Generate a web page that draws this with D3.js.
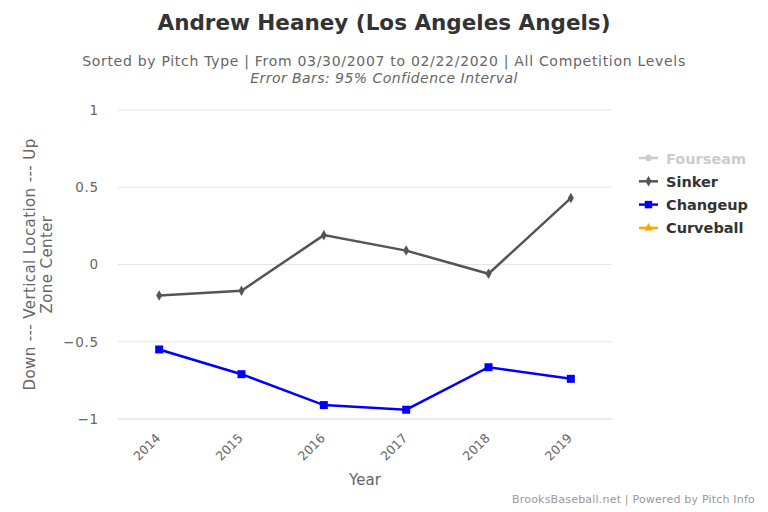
<!DOCTYPE html>
<html lang="en">
<head>
<meta charset="utf-8">
<script src="https://d3js.org/d3.v7.min.js"></script>
<style>
  body { margin: 0; background: #fff; }
  text { font-family: "DejaVu Sans", sans-serif; }
</style>
</head>
<body>
<div id="chart"></div>
<script>
  var years = ["2014", "2015", "2016", "2017", "2018", "2019"];
  var sinker = [-0.20, -0.17, 0.19, 0.09, -0.06, 0.43];
  var changeup = [-0.55, -0.71, -0.91, -0.94, -0.665, -0.74];
  var yTicks = [-1, -0.5, 0, 0.5, 1];
  var legendNames = ["Fourseam", "Sinker", "Changeup", "Curveball"];

  var W = 768, H = 512;
  var margin = {top: 110, left: 118, right: 156, bottom: 93};
  var width = W - margin.left - margin.right,
      height = H - margin.top - margin.bottom;

  var svg = d3.select("#chart").append("svg")
      .attr("width", W).attr("height", H);

  svg.append("text")
      .attr("x", 384).attr("y", 30)
      .attr("text-anchor", "middle")
      .attr("font-size", 21.5).attr("font-weight", "bold")
      .attr("fill", "#333")
      .text("Andrew Heaney (Los Angeles Angels)");
  svg.append("text")
      .attr("x", 384).attr("y", 66)
      .attr("text-anchor", "middle")
      .attr("font-size", 14).attr("fill", "#666")
      .attr("letter-spacing", 0.7)
      .text("Sorted by Pitch Type | From 03/30/2007 to 02/22/2020 | All Competition Levels");
  svg.append("text")
      .attr("x", 384).attr("y", 83)
      .attr("text-anchor", "middle")
      .attr("font-size", 14).attr("font-style", "italic").attr("fill", "#666")
      .attr("letter-spacing", 0.45)
      .text("Error Bars: 95% Confidence Interval");

  var g = svg.append("g")
      .attr("transform", "translate(" + margin.left + "," + margin.top + ")");

  var x = d3.scaleBand().domain(years).range([0, width]);
  var y = d3.scaleLinear().domain([-1, 1]).range([height, 0]);

  // grid
  g.selectAll(".grid").data(yTicks).enter().append("line")
      .attr("x1", 0).attr("x2", width)
      .attr("y1", function(d) { return y(d); })
      .attr("y2", function(d) { return y(d); })
      .attr("stroke", function(d) { return d === -1 ? "#ccd6eb" : "#e6e6e6"; })
      .attr("stroke-width", 1);

  var yAxis = g.append("g")
      .call(d3.axisLeft(y).tickValues(yTicks).tickSize(0).tickPadding(19)
        .tickFormat(function(d) { return d === 0 ? "0" : d3.format("")(d).replace("-", "\u2212"); }));
  yAxis.select(".domain").remove();
  yAxis.selectAll("text").attr("font-size", 13.5).attr("fill", "#666")
      .attr("letter-spacing", 0.8)
      .style("font-family", "DejaVu Sans, sans-serif");

  var xAxis = g.append("g")
      .attr("transform", "translate(0," + height + ")")
      .call(d3.axisBottom(x).tickSize(0));
  xAxis.select(".domain").remove();
  xAxis.selectAll("text")
      .attr("font-size", 12.5).attr("fill", "#666")
      .style("font-family", "DejaVu Sans, sans-serif")
      .attr("text-anchor", "end")
      .attr("dx", 0).attr("dy", 0)
      .attr("y", 0)
      .attr("transform", "translate(2,20) rotate(-45)");

  svg.append("text")
      .attr("x", margin.left + width / 2).attr("y", 485)
      .attr("text-anchor", "middle")
      .attr("font-size", 15).attr("fill", "#666")
      .text("Year");

  var yt = svg.append("text")
      .attr("transform", "translate(35," + (margin.top + height / 2) + ") rotate(-90)")
      .attr("text-anchor", "middle")
      .attr("font-size", 15).attr("fill", "#666")
      .attr("letter-spacing", 0.4);
  yt.append("tspan").attr("x", 0).attr("dy", 0).text("Down --- Vertical Location --- Up");
  yt.append("tspan").attr("x", 0).attr("dy", 17).text("Zone Center");

  var line = d3.line()
      .x(function(d, i) { return x(years[i]) + x.bandwidth() / 2; })
      .y(function(d) { return y(d); });

  g.append("path").datum(sinker)
      .attr("d", line).attr("fill", "none")
      .attr("stroke", "#555").attr("stroke-width", 2.5);
  g.selectAll(".sk").data(sinker).enter().append("path")
      .attr("d", d3.symbol().type(d3.symbolDiamond).size(32))
      .attr("transform", function(d, i) {
        return "translate(" + (x(years[i]) + x.bandwidth() / 2) + "," + y(d) + ")";
      })
      .attr("fill", "#555");

  g.append("path").datum(changeup)
      .attr("d", line).attr("fill", "none")
      .attr("stroke", "#0000ff").attr("stroke-width", 2.5);
  g.selectAll(".cu").data(changeup).enter().append("rect")
      .attr("x", function(d, i) { return x(years[i]) + x.bandwidth() / 2 - 4; })
      .attr("y", function(d) { return y(d) - 4; })
      .attr("width", 8).attr("height", 8)
      .attr("fill", "#0000ff");

  // legend
  var colors = ["#cccccc", "#555555", "#0000ff", "#ffa500"];
  var textColors = ["#cccccc", "#333333", "#333333", "#333333"];
  var leg = svg.append("g").attr("transform", "translate(639,158)");
  legendNames.forEach(function(name, i) {
    var row = leg.append("g").attr("transform", "translate(0," + (i * 23.3) + ")");
    row.append("line").attr("x1", 0).attr("x2", 19).attr("y1", 0).attr("y2", 0)
        .attr("stroke", colors[i]).attr("stroke-width", 2.5);
    var sym = i === 0 ? d3.symbolCircle : i === 1 ? d3.symbolDiamond : i === 2 ? d3.symbolSquare : d3.symbolTriangle;
    row.append("path").attr("transform", "translate(9.5,0)")
        .attr("d", d3.symbol().type(sym).size(i === 2 ? 56 : 32))
        .attr("fill", colors[i]);
    row.append("text").attr("x", 27).attr("y", 5.5)
        .attr("font-size", 14.5).attr("font-weight", "bold")
        .attr("fill", textColors[i]).text(name);
  });

  svg.append("text")
      .attr("x", 755).attr("y", 503)
      .attr("text-anchor", "end")
      .attr("font-size", 11).attr("fill", "#999")
      .attr("letter-spacing", 0.2)
      .text("BrooksBaseball.net | Powered by Pitch Info");
</script>
</body>
</html>
